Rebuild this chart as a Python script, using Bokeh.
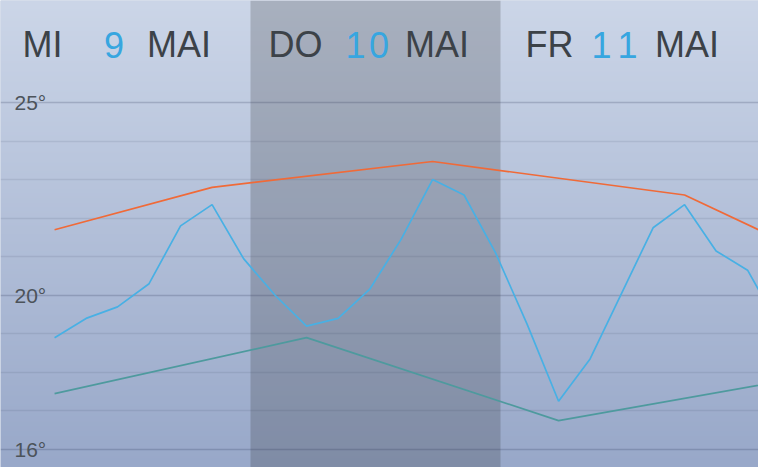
import numpy as np
from bokeh.plotting import figure
from bokeh.models import Range1d, Label, BoxAnnotation, Grid, FixedTicker
from bokeh.embed import file_html
from bokeh.resources import INLINE

# ---------------- data ----------------
# hourly forecast (hours counted from 9 May 00:00, every 3 h)
hours = [5, 8, 11, 14, 17, 20, 23, 26, 29, 32, 35, 38, 41, 44, 47, 50,
         53, 56, 59, 62, 65, 68, 71, 74]
temps = [18.9, 19.4, 19.7, 20.3, 21.8, 22.35, 20.95, 20.0, 19.2, 19.4, 20.15,
         21.45, 23.0, 22.6, 21.1, 19.25, 17.25, 18.35, 20.05, 21.75, 22.35,
         21.15, 20.65, 19.2]
# daily maximum / minimum
max_hours = [5, 20, 41, 65, 74]
max_temps = [21.7, 22.8, 23.47, 22.6, 21.45]
min_hours = [5, 29, 53, 77]
min_temps = [17.45, 18.9, 16.75, 17.9]

weekdays = ["MI", "DO", "FR"]
day_numbers = ["9", "10", "11"]
months = ["MAI", "MAI", "MAI"]
highlight_day = 1

y_label_values = [25, 20, 16]
y_label_texts = ["25°", "20°", "16°"]
grid_values = [16, 17, 18, 19, 20, 21, 22, 23, 24, 25]

# ---------------- layout ----------------
W, H = 758, 467
COL_W = 250
x0, x1 = -0.15, -0.15 + W / 10.5
y0, y1 = 15.533, 27.645

p = figure(width=W, height=H, x_range=Range1d(x0, x1), y_range=Range1d(y0, y1),
           x_axis_type=None, y_axis_type=None, output_backend="svg",
           toolbar_location=None, min_border=0)
p.outline_line_color = None
p.background_fill_color = "#b4c1d9"

# vertical background gradient
top = np.array([204, 214, 232], dtype=float)
bot = np.array([152, 168, 201], dtype=float)
N = H
t = np.linspace(0, 1, N)[:, None]  # 0 = bottom row
cols = bot * (1 - t) + top * t
img = np.zeros((N, 2), dtype=np.uint32)
view = img.view(dtype=np.uint8).reshape((N, 2, 4))
view[:, :, 0] = cols[:, 0:1].astype(np.uint8)
view[:, :, 1] = cols[:, 1:2].astype(np.uint8)
view[:, :, 2] = cols[:, 2:3].astype(np.uint8)
view[:, :, 3] = 255
p.image_rgba(image=[img], x=x0, y=y0, dw=x1 - x0, dh=y1 - y0, level="image")

# highlighted day column
band = BoxAnnotation(left=highlight_day * COL_W, right=(highlight_day + 1) * COL_W,
                     left_units="screen", right_units="screen",
                     fill_color="#282828", fill_alpha=0.21, line_color=None,
                     level="underlay")
p.add_layout(band)

# grid lines
minor = Grid(dimension=1, ticker=FixedTicker(ticks=grid_values),
             grid_line_color="#2a3550", grid_line_alpha=0.10, grid_line_width=1.5)
major = Grid(dimension=1, ticker=FixedTicker(ticks=y_label_values),
             grid_line_color="#2a3550", grid_line_alpha=0.12, grid_line_width=1.5)
p.add_layout(minor)
p.add_layout(major)

# lines
p.line(max_hours, max_temps, line_color="#f06a38", line_width=1.7)
p.line(min_hours, min_temps, line_color="#4e9a9e", line_width=1.7)
p.line(hours, temps, line_color="#48b0e4", line_width=1.7)

# y labels
for v, s in zip(y_label_values, y_label_texts):
    p.add_layout(Label(x=14, x_units="screen", y=v, y_units="data", text=s,
                       text_font="Liberation Sans", text_font_size="21px",
                       text_color="#4c535a", text_baseline="middle"))

# header labels
wd_off = [22, 18, 25]
num_off = [103.5, 95, 91]
digit_adv = [24, 23.5, 26]
mon_off = [146.5, 154.5, 154.5]
HEAD_Y = H - 44
FONT = dict(text_font="Liberation Sans", text_font_size="36px", text_baseline="middle")
for i in range(len(weekdays)):
    base = i * COL_W
    p.add_layout(Label(x=base + wd_off[i], y=HEAD_Y, x_units="screen", y_units="screen",
                       text=weekdays[i], text_color="#3c4248", **FONT))
    for j, ch in enumerate(day_numbers[i]):
        p.add_layout(Label(x=base + num_off[i] + j * digit_adv[i], y=HEAD_Y,
                           x_units="screen", y_units="screen",
                           text=ch, text_color="#37a6e0", **FONT))
    p.add_layout(Label(x=base + mon_off[i], y=HEAD_Y, x_units="screen", y_units="screen",
                       text=months[i], text_color="#3c4248", **FONT))

open("out.html", "w").write(file_html(p, INLINE))
